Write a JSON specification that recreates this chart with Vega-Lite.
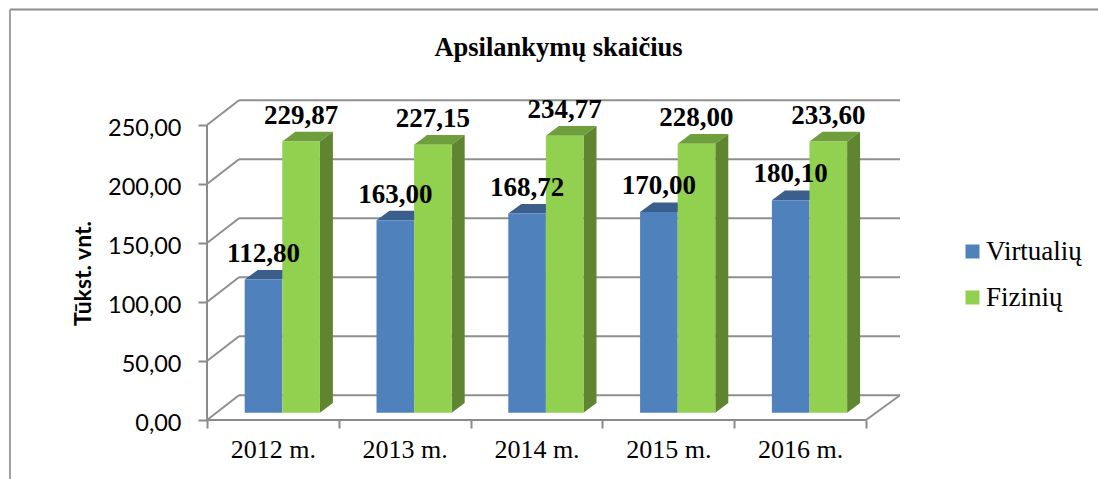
{
"$schema":"https://vega.github.io/schema/vega-lite/v6.json",
"width":693,"height":320,
"autosize":{"type":"none"},
"padding":{"left":207,"top":100,"right":198,"bottom":59},
"background":"white",
"config":{"view":{"stroke":null},"axis":{"grid":false,"domain":false},"locale":{"number":{"decimal":",","thousands":".","grouping":[3],"currency":["","€"]}}},
"title":{"text":"Apsilankymų skaičius","font":"Liberation Serif","fontWeight":"bold","fontSize":26.5,"color":"#000000","anchor":"middle","dx":5,"offset":-53},
"data":{"values":[
{"year":"2012 m.","series":"Virtualių","value":112.80,"label":112.80},{"year":"2012 m.","series":"Fizinių","value":229.87,"label":229.87},
{"year":"2013 m.","series":"Virtualių","value":163.00,"label":163.00},{"year":"2013 m.","series":"Fizinių","value":227.15,"label":227.15},
{"year":"2014 m.","series":"Virtualių","value":168.72,"label":168.72},{"year":"2014 m.","series":"Fizinių","value":234.77,"label":234.77},
{"year":"2015 m.","series":"Virtualių","value":170.00,"label":170.00},{"year":"2015 m.","series":"Fizinių","value":228.00,"label":228.00},
{"year":"2016 m.","series":"Virtualių","value":180.10,"label":180.10},{"year":"2016 m.","series":"Fizinių","value":229.90,"label":233.60}
]},
"transform":[
{"calculate":"indexof(['2012 m.','2013 m.','2014 m.','2015 m.','2016 m.'],datum.year)","as":"idx"},
{"calculate":"datum.idx+0.286+(datum.series=='Virtualių'?0:0.2853)","as":"left"},
{"calculate":"datum.left+0.2853","as":"right"},
{"calculate":"datum.value+6.19","as":"top"}
],
"layer":[
{"data":{"values":[{"k":"axes"}]},"mark":{"type":"rule","color":"#8A8A8A","strokeWidth":2},
 "encoding":{
  "x":{"datum":0,"type":"quantitative","scale":{"domain":[0,5.258],"nice":false,"zero":false},
   "axis":{"values":[0,1,2,3,4,5],"title":null,"tickColor":"#8A8A8A","tickWidth":2,"tickSize":8,"labelExpr":"['2012 m.','2013 m.','2014 m.','2015 m.','2016 m.',''][datum.value]","labelOffset":65.9,"labelFont":"Liberation Serif","labelFontSize":26,"labelColor":"#000000","labelPadding":8,"labelAlign":"center","labelFlush":false,"labelOverlap":false}},
  "x2":{"datum":5},
  "y":{"datum":0,"type":"quantitative","scale":{"domain":[0,271.19],"nice":false,"zero":false},
   "axis":{"values":[0,50,100,150,200,250],"format":".2f","title":"Tūkst. vnt.","titleFont":"Lato","titleFontWeight":700,"titleFontSize":23,"titleColor":"#000000","titleX":-124,"titleY":173,"titleAlign":"center","titleBaseline":"middle","tickColor":"#8A8A8A","tickWidth":2,"tickSize":9,"labelFont":"Lato","labelFontSize":23.5,"labelColor":"#000000","labelPadding":17,"labelOffset":3,"labelOverlap":false}}
 }},
{"data":{"values":[{"k":"yaxis"}]},"mark":{"type":"rule","color":"#8A8A8A","strokeWidth":2},
 "encoding":{
  "x":{"datum":0,"type":"quantitative","scale":{"domain":[0,5.258],"nice":false,"zero":false}},
  "y":{"datum":0,"type":"quantitative","scale":{"domain":[0,271.19],"nice":false,"zero":false}},
  "y2":{"datum":250}
 }},
{"data":{"values":[{"k":"frame"}]},"mark":{"type":"rule","color":"#8C8C8C","strokeWidth":2},
 "encoding":{
  "x":{"datum":-1.495,"type":"quantitative","scale":{"domain":[0,5.258],"nice":false,"zero":false}},
  "x2":{"datum":7},
  "y":{"datum":347.9,"type":"quantitative","scale":{"domain":[0,271.19],"nice":false,"zero":false}}
 }},
{"data":{"values":[{"k":"frame"}]},"mark":{"type":"rule","color":"#A0A0A0","strokeWidth":2},
 "encoding":{
  "x":{"datum":-1.495,"type":"quantitative","scale":{"domain":[0,5.258],"nice":false,"zero":false}},
  "y":{"datum":-60,"type":"quantitative","scale":{"domain":[0,271.19],"nice":false,"zero":false}},
  "y2":{"datum":347.9}
 }},
{"data":{"values":[{"tick":0},{"tick":50},{"tick":100},{"tick":150},{"tick":200},{"tick":250}]},
 "transform":[{"calculate":"datum.tick+20.93","as":"back"}],
 "mark":{"type":"rule","color":"#8F8F8F","strokeWidth":2},
 "encoding":{
  "x":{"datum":0.2428,"type":"quantitative","scale":{"domain":[0,5.258],"nice":false,"zero":false}},
  "x2":{"datum":5.258},
  "y":{"field":"back","type":"quantitative","scale":{"domain":[0,271.19],"nice":false,"zero":false}}
 }},
{"data":{"values":[{"tick":0},{"tick":50},{"tick":100},{"tick":150},{"tick":200},{"tick":250}]},
 "transform":[{"calculate":"datum.tick+20.93","as":"back"}],
 "mark":{"type":"rule","color":"#8F8F8F","strokeWidth":2},
 "encoding":{
  "x":{"datum":0,"type":"quantitative","scale":{"domain":[0,5.258],"nice":false,"zero":false}},
  "x2":{"datum":0.2428},
  "y":{"field":"tick","type":"quantitative","scale":{"domain":[0,271.19],"nice":false,"zero":false}},
  "y2":{"field":"back"}
 }},
{"data":{"values":[{"k":"floor"}]},"mark":{"type":"rule","color":"#8F8F8F","strokeWidth":2},
 "encoding":{
  "x":{"datum":5,"type":"quantitative","scale":{"domain":[0,5.258],"nice":false,"zero":false}},
  "x2":{"datum":5.258},
  "y":{"datum":0,"type":"quantitative","scale":{"domain":[0,271.19],"nice":false,"zero":false}},
  "y2":{"datum":20.93}
 }},
{"transform":[
  {"filter":"datum.series=='Virtualių'"},
  {"calculate":"[0,1,2,3]","as":"t"},{"flatten":["t"]},
  {"calculate":"datum.t==0?datum.left:datum.t==1?datum.left+0.0986:datum.t==2?datum.right:datum.right+0.0986","as":"px"},
  {"calculate":"datum.t==0?datum.top:datum.top+8.14","as":"upper"},
  {"calculate":"datum.t==3?datum.top+8.14:datum.top","as":"lower"}
 ],
 "mark":{"type":"area","orient":"vertical","interpolate":"linear","fill":"#3B5F8D","opacity":1},
 "encoding":{
  "x":{"field":"px","type":"quantitative","scale":{"domain":[0,5.258],"nice":false,"zero":false}},
  "y":{"field":"upper","type":"quantitative","scale":{"domain":[0,271.19],"nice":false,"zero":false}},
  "y2":{"field":"lower"},
  "detail":{"field":"year"}
 }},
{"transform":[
  {"filter":"datum.series=='Fizinių'"},
  {"calculate":"[0,1,2,3]","as":"t"},{"flatten":["t"]},
  {"calculate":"datum.t==0?datum.left:datum.t==1?datum.left+0.0986:datum.t==2?datum.right:datum.right+0.0986","as":"px"},
  {"calculate":"datum.t==0?datum.top:datum.top+8.14","as":"upper"},
  {"calculate":"datum.t==3?datum.top+8.14:datum.top","as":"lower"}
 ],
 "mark":{"type":"area","orient":"vertical","interpolate":"linear","fill":"#6F9E3C","opacity":1},
 "encoding":{
  "x":{"field":"px","type":"quantitative","scale":{"domain":[0,5.258],"nice":false,"zero":false}},
  "y":{"field":"upper","type":"quantitative","scale":{"domain":[0,271.19],"nice":false,"zero":false}},
  "y2":{"field":"lower"},
  "detail":{"field":"year"}
 }},
{"transform":[
  {"filter":"datum.series=='Fizinių'"},
  {"calculate":"[0,1]","as":"t"},{"flatten":["t"]},
  {"calculate":"datum.right+datum.t*0.0986","as":"px"},
  {"calculate":"datum.top+datum.t*8.14","as":"upper"},
  {"calculate":"6.19+datum.t*8.14","as":"lower"}
 ],
 "mark":{"type":"area","orient":"vertical","interpolate":"linear","fill":"#5F8530","opacity":1},
 "encoding":{
  "x":{"field":"px","type":"quantitative","scale":{"domain":[0,5.258],"nice":false,"zero":false}},
  "y":{"field":"upper","type":"quantitative","scale":{"domain":[0,271.19],"nice":false,"zero":false}},
  "y2":{"field":"lower"},
  "detail":{"field":"year"}
 }},
{"mark":{"type":"rect","yOffset":-7.3,"y2Offset":-7.3},
 "encoding":{
  "x":{"field":"left","type":"quantitative","scale":{"domain":[0,5.258],"nice":false,"zero":false}},
  "x2":{"field":"right"},
  "y":{"field":"value","type":"quantitative","scale":{"domain":[0,271.19],"nice":false,"zero":false}},
  "y2":{"datum":0},
  "color":{"field":"series","type":"nominal","scale":{"domain":["Virtualių","Fizinių"],"range":["#4F81BD","#92D050"]},
   "legend":{"title":null,"orient":"none","legendX":752,"legendY":138,"symbolType":"square","symbolSize":196,"symbolStrokeWidth":0,"symbolOpacity":1,"labelFont":"Liberation Serif","labelFontSize":27,"labelColor":"#000000","labelOffset":0,"rowPadding":18,"labelLimit":200}}
 }},
{"transform":[{"calculate":"(datum.left+datum.right)/2","as":"mid"}],
 "mark":{"type":"text","font":"Liberation Serif","fontWeight":"bold","fontSize":27,"color":"#000000","align":"center","baseline":"middle","yOffset":-33},
 "encoding":{
  "x":{"field":"mid","type":"quantitative","scale":{"domain":[0,5.258],"nice":false,"zero":false}},
  "y":{"field":"value","type":"quantitative","scale":{"domain":[0,271.19],"nice":false,"zero":false}},
  "text":{"field":"label","type":"quantitative","format":".2f"}
 }}
]
}
